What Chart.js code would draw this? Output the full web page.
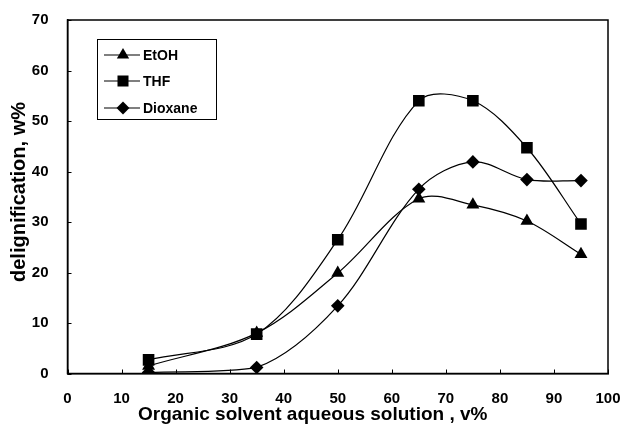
<!DOCTYPE html>
<html>
<head>
<meta charset="utf-8">
<script src="https://cdn.jsdelivr.net/npm/chart.js@4.4.1/dist/chart.umd.min.js"></script>
<style>
  html, body { margin: 0; padding: 0; background: #fff; }
  #wrap { width: 623px; height: 426px; }
</style>
</head>
<body>
<div id="wrap"><canvas id="chart"></canvas></div>
<script>
"use strict";
// solvent concentration (v%)
var solvent = [15, 35, 50, 65, 75, 85, 95];
var etoh = [1.5, 8.0, 19.9, 34.6, 33.4, 30.2, 23.6];
var thf = [2.7, 7.8, 26.5, 54.0, 54.0, 44.7, 29.6];
var dioxane = [0.2, 1.2, 13.4, 36.5, 41.9, 38.4, 38.2];
var seriesNames = ["EtOH", "THF", "Dioxane"];
var xTicks = [0, 10, 20, 30, 40, 50, 60, 70, 80, 90, 100];
var yTicks = [0, 10, 20, 30, 40, 50, 60, 70];
var xTitle = "Organic solvent aqueous solution , v%";
var yTitle = "delignification, w%";

var FONT = "'Liberation Sans', Arial, sans-serif";

function pts(vals) {
    return solvent.map(function (x, i) { return { x: x, y: vals[i] }; });
}

var styles = [
    { shape: "triangle", r: 7.5 },
    { shape: "rect", r: 8.2 },
    { shape: "rectRot", r: 6.8 }
];

var datasets = [etoh, thf, dioxane].map(function (vals, i) {
    return {
        label: seriesNames[i],
        data: pts(vals),
        borderColor: "#000",
        borderWidth: 1.2,
        backgroundColor: "#000",
        pointStyle: styles[i].shape,
        pointRadius: styles[i].r,
        pointBorderWidth: 0,
        pointBackgroundColor: "#000",
        tension: 0.33,
        fill: false
    };
});

// frame, inside ticks, axis titles and the boxed legend
var framePlugin = {
    id: "frame",
    afterDraw: function (chart) {
        var ctx = chart.ctx, a = chart.chartArea;
        var xs = chart.scales.x, ys = chart.scales.y;
        ctx.save();
        ctx.strokeStyle = "#000";
        ctx.lineWidth = 1.5;
        ctx.strokeRect(a.left, a.top, a.right - a.left, a.bottom - a.top);
        ctx.lineWidth = 1;
        ctx.beginPath();
        xTicks.forEach(function (v) {
            var px = Math.round(xs.getPixelForValue(v)) + 0.5;
            ctx.moveTo(px, a.bottom);
            ctx.lineTo(px, a.bottom - 4);
        });
        yTicks.forEach(function (v) {
            var py = Math.round(ys.getPixelForValue(v)) + 0.5;
            ctx.moveTo(a.left, py);
            ctx.lineTo(a.left + 4, py);
        });
        ctx.stroke();

        // axis titles
        ctx.fillStyle = "#000";
        ctx.textBaseline = "middle";
        ctx.font = "bold 19px " + FONT;
        ctx.textAlign = "left";
        ctx.fillText(xTitle, 138, 415);
        ctx.save();
        ctx.translate(19, 192);
        ctx.rotate(-Math.PI / 2);
        ctx.textAlign = "center";
        ctx.font = "bold 20px " + FONT;
        ctx.fillText(yTitle, 0, 0);
        ctx.restore();

        // legend
        var bx = 97.5, by = 39.5, bw = 119, bh = 80;
        ctx.fillStyle = "#fff";
        ctx.fillRect(bx, by, bw, bh);
        ctx.lineWidth = 1;
        ctx.strokeRect(bx, by, bw, bh);
        var rows = [55, 81, 108];
        ctx.font = "bold 14px " + FONT;
        ctx.textBaseline = "middle";
        ctx.textAlign = "left";
        seriesNames.forEach(function (name, i) {
            var y = rows[i];
            ctx.strokeStyle = "#000";
            ctx.lineWidth = 1.2;
            ctx.beginPath();
            ctx.moveTo(104, y);
            ctx.lineTo(140, y);
            ctx.stroke();
            ctx.fillStyle = "#000";
            Chart.helpers.drawPoint(ctx, {
                pointStyle: styles[i].shape,
                radius: styles[i].r * 0.95,
                borderWidth: 0,
                rotation: 0
            }, 123, y);
            ctx.fillText(name, 143, y + 1);
        });
        ctx.restore();
    }
};

new Chart(document.getElementById("chart"), {
    type: "line",
    data: { datasets: datasets },
    plugins: [framePlugin],
    options: {
        responsive: true,
        maintainAspectRatio: false,
        animation: false,
        layout: { padding: { top: 20, right: 15, left: 0, bottom: 0 } },
        plugins: {
            legend: { display: false },
            tooltip: { enabled: false }
        },
        scales: {
            x: {
                type: "linear",
                min: 0,
                max: 100,
                afterFit: function (s) {
                    s.height = 52.5;
                    s.paddingLeft = 0;
                    s.paddingRight = 0;
                },
                afterBuildTicks: function (s) {
                    s.ticks = xTicks.map(function (v) { return { value: v }; });
                },
                grid: { drawOnChartArea: false, drawTicks: false },
                border: { color: "#000", width: 1.5 },
                ticks: {
                    color: "#000",
                    padding: 16,
                    maxRotation: 0,
                    font: { family: FONT, size: 15, weight: "bold" }
                }
            },
            y: {
                min: 0,
                max: 70,
                afterFit: function (s) {
                    s.width = 67.5;
                    s.paddingTop = 0;
                    s.paddingBottom = 0;
                },
                afterBuildTicks: function (s) {
                    s.ticks = yTicks.map(function (v) { return { value: v }; });
                },
                grid: { drawOnChartArea: false, drawTicks: false },
                border: { color: "#000", width: 1.5 },
                ticks: {
                    color: "#000",
                    padding: 19,
                    font: { family: FONT, size: 15, weight: "bold" }
                }
            }
        }
    }
});
</script>
</body>
</html>
